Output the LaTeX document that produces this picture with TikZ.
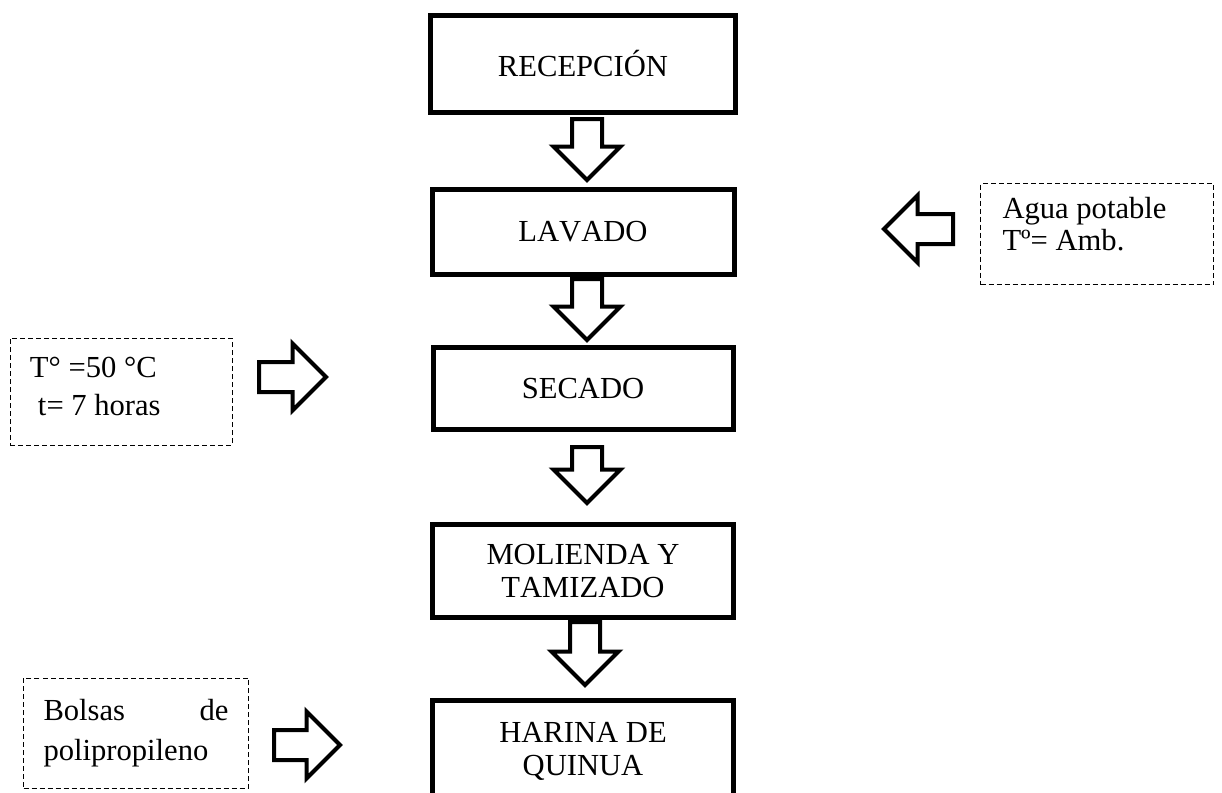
\documentclass[tikz,border=0pt]{standalone}
\usepackage{fontspec}
\setmainfont[Kerning=Off]{Liberation Serif}
\usetikzlibrary{positioning,shapes.arrows,calc}

\begin{document}
\begin{tikzpicture}[x=0.5pt, y=-0.5pt, font=\fontsize{15.3}{16.5}\selectfont,
    main/.style = {draw, line width=2.5pt, minimum width=151pt, inner sep=0pt, align=center},
    side/.style = {draw, line width=0.5pt, dash pattern=on 2.5pt off 1.5pt, inner xsep=10pt, align=flush left},
    flecha/.style = {draw, single arrow, line width=2pt, inner sep=6.5pt, single arrow head extend=9.25pt, minimum height=30.5pt, anchor=tail}]

    \clip (0,0) rectangle (1222,793);

    \node[main, minimum width=152.5pt, minimum height=48.5pt] (p_1) at (583,64) {RECEPCIÓN};
    \node[main, minimum height=42.5pt] (p_2) [below=36pt of p_1] {LAVADO};
    \node[main, minimum width=150pt, minimum height=41pt] (p_3) [below=34pt of p_2] {SECADO};
    \node[main, minimum width=150.5pt, minimum height=46.5pt] (p_4) [below=45pt of p_3] {MOLIENDA Y\\TAMIZADO};
    \node[main, minimum width=150.5pt, minimum height=50.5pt] (p_5) [below=39pt of p_4] {HARINA DE\\QUINUA};

    \node[flecha, rotate=-90] (f_1) at ($(p_1.south) + (4,2)$) {};
    \node[flecha, rotate=-90] (f_2) at ($(p_2.south) + (4,0)$) {};
    \node[flecha, rotate=-90, minimum height=28pt] (f_3) at ($(p_3.south) + (4,13)$) {};
    \node[flecha, rotate=-90, minimum height=31.5pt] (f_4) at ($(p_4.south) + (2,0)$) {};

    % entradas
    \node[side, text width=94.5pt, minimum width=116.5pt, minimum height=50.5pt, inner xsep=11pt, font=\fontsize{15.3}{16}\selectfont] (d_1) at (1097,234) {Agua potable\\Tº= Amb.\rule[-10.5pt]{0pt}{0pt}};
    \node[flecha, minimum height=34.5pt, rotate=180] (f_5) at (955,229) {};

    \node[side, text width=91pt, minimum width=111pt, minimum height=53.5pt, font=\fontsize{15.3}{19}\selectfont] (d_2) at (121,391.5) {T° =50 °C\\\hspace*{4pt}t= 7 horas\rule[-5pt]{0pt}{0pt}};
    \node[flecha, minimum height=33.5pt] (f_6) at (257,377) {};

    \node[side, text width=92.5pt, minimum width=112.5pt, minimum height=55pt, font=\fontsize{15.3}{20}\selectfont] (d_3) at (136,733) {Bolsas\hfill de\\polipropileno};
    \node[flecha, minimum height=33pt] (f_7) at (272,745) {};
\end{tikzpicture}
\end{document}
